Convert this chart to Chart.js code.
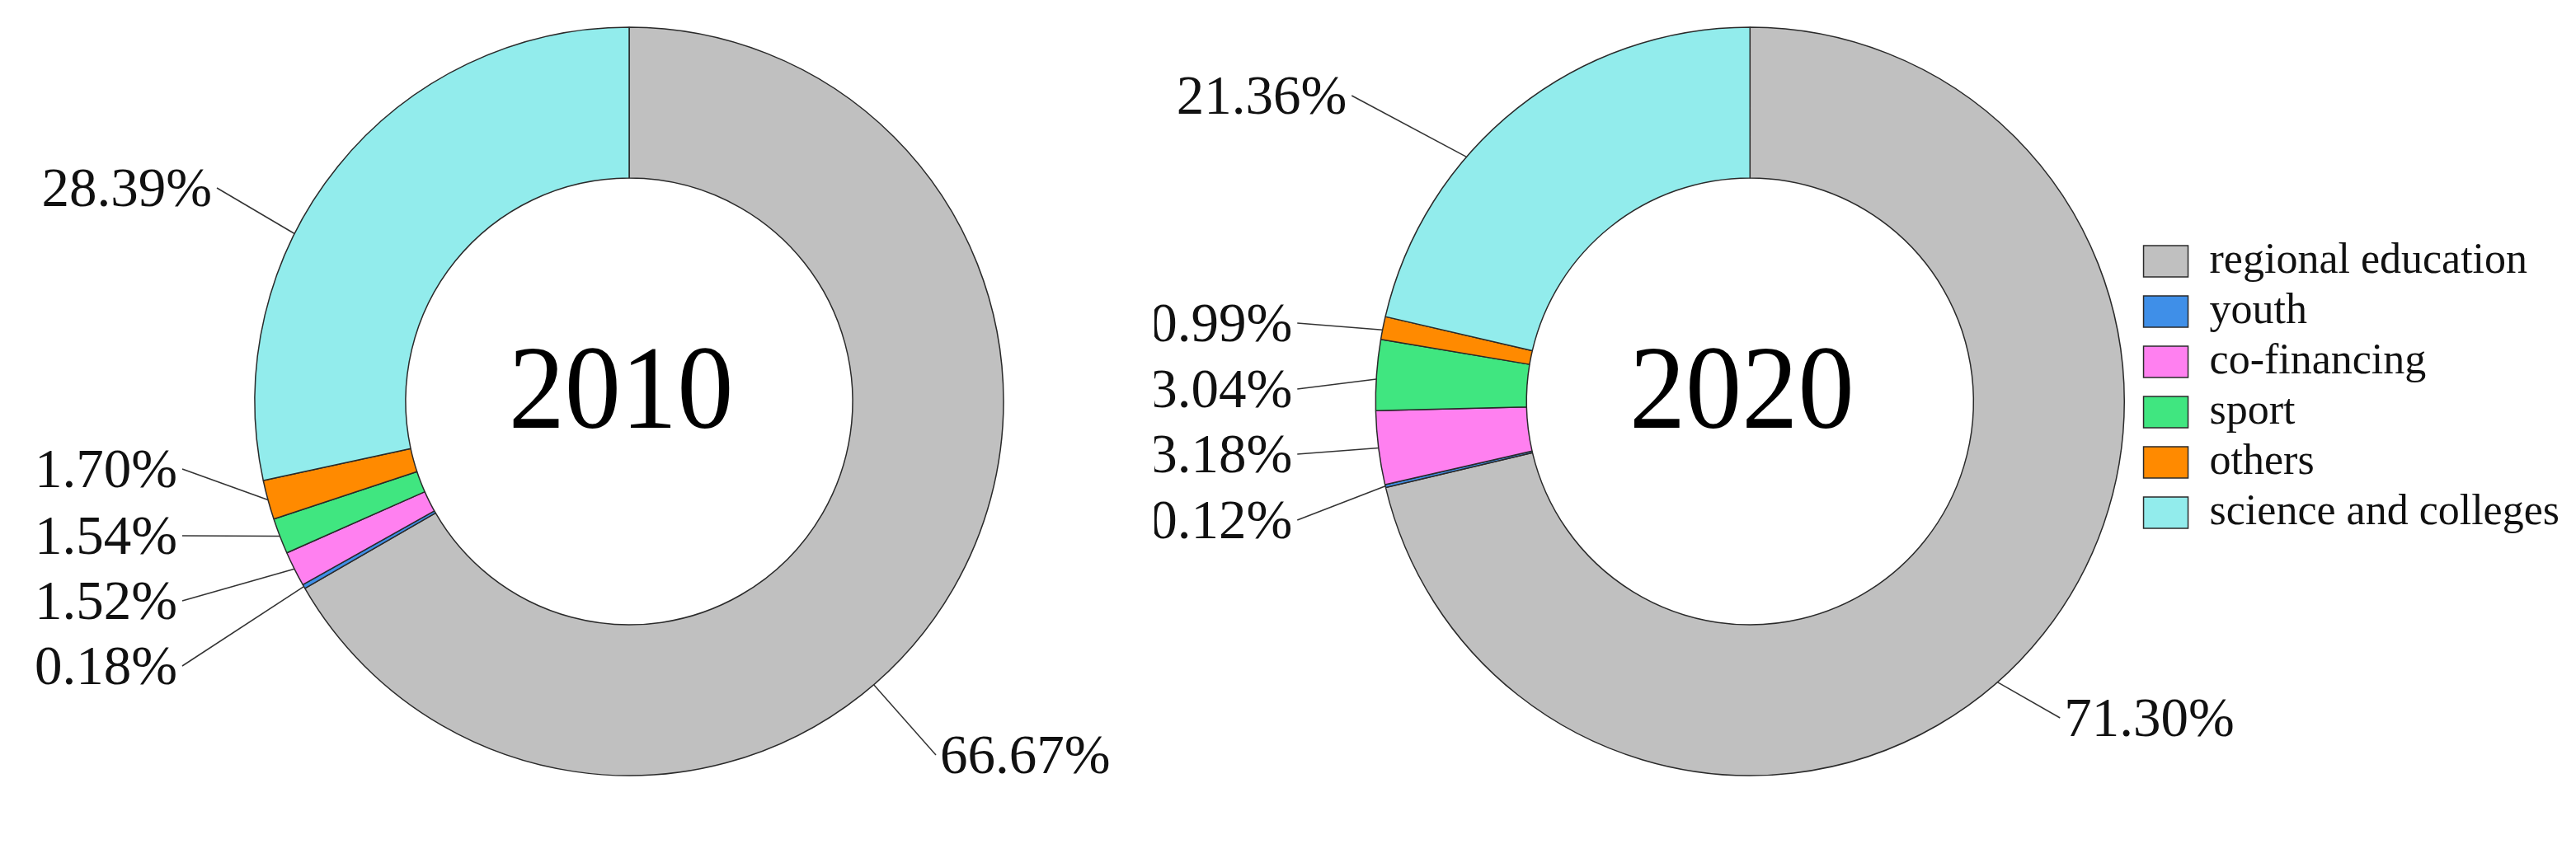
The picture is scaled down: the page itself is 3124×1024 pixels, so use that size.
<!DOCTYPE html>
<html>
<head>
<meta charset="utf-8">
<script src="https://cdn.jsdelivr.net/npm/chart.js@4.4.1/dist/chart.umd.min.js"></script>
<style>
  html, body { margin: 0; padding: 0; background: #fff; }
  body { width: 3124px; height: 1024px; position: relative; overflow: hidden; }
  .panel { position: absolute; top: 0; height: 1024px; }
  #panel2010 { left: 0; width: 1400px; }
  #panel2020 { left: 1400px; width: 1724px; }
</style>
</head>
<body>
<div class="panel" id="panel2010"><canvas id="chart2010"></canvas></div>
<div class="panel" id="panel2020"><canvas id="chart2020"></canvas></div>
<script>
// === Data ===
const categories = ["regional education", "youth", "co-financing", "sport", "others", "science and colleges"];
const share2010 = [66.67, 0.18, 1.52, 1.54, 1.70, 28.39];
const share2020 = [71.30, 0.12, 3.18, 3.04, 0.99, 21.36];
const years = ["2010", "2020"];

// === Colours ===
const sliceColors = ["#c0c0c0", "#3f8fe8", "#ff80f0", "#40e680", "#ff8a00", "#92ecec"];
const edge = "#2a2a2a";
const serif = "'Liberation Serif', 'DejaVu Serif', serif";

// === Label placement (text edge + baseline, relative to the ring centre) ===
// where: fraction along the slice where the leader line touches the ring
const labels2010 = [
  { dx: 377, dy: 451, side: "right", where: 0.58 },
  { dx: -548, dy: 343, side: "left", where: 0.5 },
  { dx: -548, dy: 264, side: "left", where: 0.5 },
  { dx: -548, dy: 185, side: "left", where: 0.5 },
  { dx: -548, dy: 104, side: "left", where: 0.5 },
  { dx: -506, dy: -237, side: "left", where: 0.38 }
];
const labels2020 = [
  { dx: 381, dy: 406, side: "right", where: 0.54 },
  { dx: -555, dy: 166, side: "left", where: 0.5 },
  { dx: -555, dy: 86, side: "left", where: 0.5 },
  { dx: -555, dy: 7, side: "left", where: 0.44 },
  { dx: -555, dy: -73, side: "left", where: 0.42 },
  { dx: -489, dy: -349, side: "left", where: 0.36 }
];

// Percent labels with leader lines + year in the hole
const ringText = {
  id: "ringText",
  afterDatasetsDraw(chart, args, opts) {
    const ctx = chart.ctx;
    const meta = chart.getDatasetMeta(0);
    const values = chart.data.datasets[0].data;
    ctx.save();
    meta.data.forEach(function (arc, i) {
      const p = arc.getProps(["x", "y", "startAngle", "endAngle", "outerRadius"], true);
      const lay = opts.layout[i];
      const a = p.startAngle + (p.endAngle - p.startAngle) * lay.where;
      const ax = p.x + Math.cos(a) * p.outerRadius;
      const ay = p.y + Math.sin(a) * p.outerRadius;
      const tx = p.x + lay.dx;
      const ty = p.y + lay.dy;
      const lx = lay.side === "left" ? tx + 6 : tx - 5;
      const ly = ty - 22;

      ctx.beginPath();
      ctx.moveTo(ax, ay);
      ctx.lineTo(lx, ly);
      ctx.strokeStyle = "#333";
      ctx.lineWidth = 1.5;
      ctx.stroke();

      ctx.fillStyle = "#111";
      ctx.font = "67px " + serif;
      ctx.textBaseline = "alphabetic";
      ctx.textAlign = lay.side === "left" ? "right" : "left";
      ctx.fillText(values[i].toFixed(2) + "%", tx, ty);
    });

    // year in the middle, slightly condensed like the original
    const c = meta.data[0].getProps(["x", "y"], true);
    ctx.translate(c.x - 10, c.y + 32);
    ctx.scale(0.94, 1);
    ctx.font = "145px " + serif;
    ctx.textAlign = "center";
    ctx.fillStyle = "#000";
    ctx.fillText(opts.year, 0, 0);
    ctx.restore();
  }
};

function ringChart(id, values, year, layout, padding, showLegend) {
  return new Chart(document.getElementById(id), {
    type: "doughnut",
    data: {
      labels: categories,
      datasets: [{
        data: values,
        backgroundColor: sliceColors,
        borderColor: edge,
        borderWidth: 1.5,
        clip: false
      }]
    },
    options: {
      responsive: true,
      maintainAspectRatio: false,
      animation: false,
      events: [],
      radius: 454,
      cutout: "59.7%",
      layout: { padding: padding },
      plugins: {
        tooltip: { enabled: false },
        legend: {
          display: showLegend,
          position: "right",
          align: "start",
          labels: {
            boxWidth: 54,
            boxHeight: 38,
            padding: 9,
            color: "#111",
            font: { family: serif, size: 52 }
          }
        },
        ringText: { year: year, layout: layout }
      }
    },
    plugins: [ringText]
  });
}

// === 2010 ===
ringChart("chart2010", share2010, years[0], labels2010,
  { left: 126, right: 0, top: 0, bottom: 50 }, false);

// === 2020 (carries the legend) ===
ringChart("chart2020", share2020, years[1], labels2020,
  { left: 254, right: 10, top: 282, bottom: 332 }, true);
</script>
</body>
</html>
